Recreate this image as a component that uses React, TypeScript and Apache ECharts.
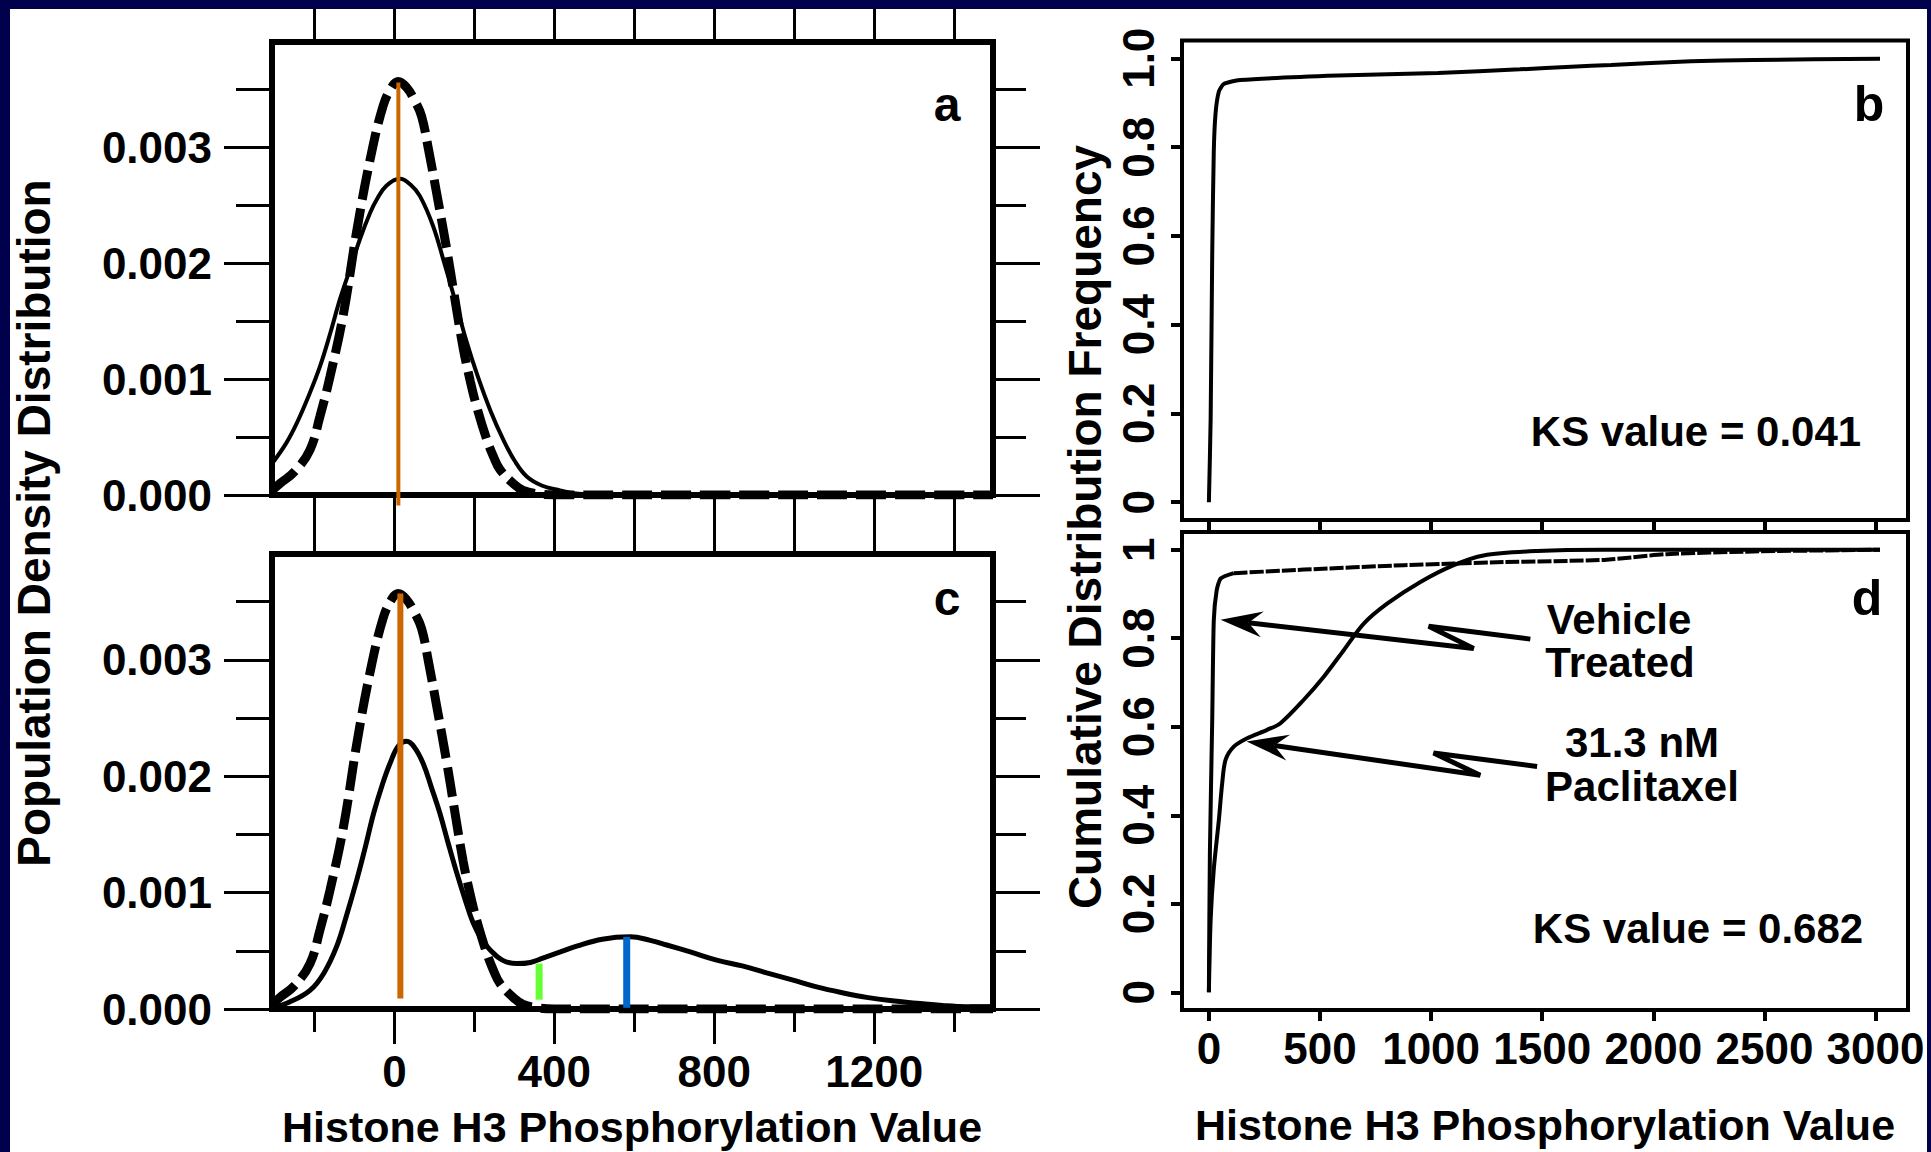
import React, { useEffect, useRef } from "react";
import * as echarts from "echarts";

const FONT = '"Liberation Sans", Arial, Helvetica, sans-serif';

// ---------- density panels (a, c) ----------
const densityXMin = -306;
const densityXMax = 1497;
const densityYMin = 0;
const densityYMax = 0.00391;
const densityXTicks = [-200, 0, 200, 400, 600, 800, 1000, 1200, 1400];
const densityXMajor = [0, 400, 800, 1200];
const densityXMinor = [-200, 200, 600, 1000, 1400];
const densityYMajor = [0, 0.001, 0.002, 0.003];
const densityYMinor = [0.0005, 0.0015, 0.0025, 0.0035];

// vehicle-treated density (dashed, panels a and c)
const vehicleDensity: [number, number][] = [
  [-306, 0.00004], [-286, 0.0001], [-250, 0.0002], [-211, 0.00039], [-186, 0.00068],
  [-161, 0.00102], [-127, 0.00157], [-94, 0.00228], [-61, 0.00289], [-28, 0.00336],
  [-5, 0.00353], [10, 0.00357], [30, 0.00352], [50, 0.00341], [68, 0.00327],
  [85, 0.00299], [106, 0.0026], [131, 0.00212], [150, 0.00172], [172, 0.00127],
  [190, 0.00098], [206, 0.00076], [230, 0.00049], [248, 0.00033], [264, 0.00022],
  [297, 0.0001], [322, 0.00004], [360, 0.00001], [400, 0], [800, 0], [1200, 0], [1497, 0],
];

// panel a comparison density (solid)
const panelADensity: [number, number][] = [
  [-306, 0.00027], [-270, 0.00045], [-244, 0.00062], [-215, 0.00085], [-186, 0.00111],
  [-160, 0.0014], [-136, 0.00169], [-110, 0.00196], [-86, 0.00221], [-60, 0.00244],
  [-44, 0.00255], [-20, 0.00267], [14, 0.00273], [40, 0.00268], [64, 0.00258],
  [97, 0.00232], [125, 0.002], [156, 0.00163], [180, 0.00133], [206, 0.00105],
  [240, 0.00073], [272, 0.00048], [300, 0.0003], [331, 0.00016], [370, 0.00008],
  [414, 0.00004], [460, 0.00001], [520, 0], [800, 0], [1200, 0], [1497, 0],
];

// 31.3 nM paclitaxel density (solid, panel c)
const paclitaxelDensity: [number, number][] = [
  [-306, 0.00001], [-262, 0.00006], [-211, 0.00016], [-176, 0.00031], [-144, 0.00054],
  [-120, 0.0008], [-94, 0.00111], [-72, 0.0014], [-52, 0.00168], [-30, 0.00193],
  [-11, 0.00211], [10, 0.00226], [31, 0.0023], [50, 0.00225], [72, 0.00211],
  [93, 0.0019], [114, 0.00168], [135, 0.00142], [156, 0.00117], [177, 0.00094],
  [197, 0.00074], [218, 0.0006], [239, 0.00051], [270, 0.00042], [306, 0.00039],
  [340, 0.0004], [373, 0.00044], [415, 0.00049], [456, 0.00054], [520, 0.0006],
  [590, 0.00062], [640, 0.00059], [681, 0.00055], [740, 0.00049], [806, 0.00042],
  [870, 0.00037], [931, 0.00031], [995, 0.00025], [1056, 0.00019], [1120, 0.00014],
  [1181, 0.0001], [1245, 0.00007], [1306, 0.00005], [1370, 0.00003], [1431, 0.00002],
  [1497, 0.00002],
];

// vertical marker lines
const panelAMarkerX = [10];
const panelAMarkerTop = [0.00356];
const panelAMarkerBottom = [-0.00009];
const panelCMarkerX = [15, 362, 581];
const panelCMarkerTop = [0.00357, 0.00039, 0.00062];
const panelCMarkerBottom = [0.00009, 0.00008, 0.00001];

// ---------- cumulative panels (b, d) ----------
const cdfXMin = -121;
const cdfXMax = 3146;
const cdfYMin = -0.04;
const cdfYMax = 1.04;
const cdfXTicks = [0, 500, 1000, 1500, 2000, 2500, 3000];
const cdfYTicks = [0, 0.2, 0.4, 0.6, 0.8, 1];

const vehicleCdfB: [number, number][] = [
  [0, 0], [8, 0.19], [15, 0.56], [22, 0.79], [30, 0.876], [45, 0.925], [67, 0.942],
  [140, 0.951], [580, 0.961], [1030, 0.967], [1400, 0.975], [1630, 0.981],
  [1810, 0.985], [2170, 0.993], [2450, 0.996], [3020, 0.999],
];

const vehicleCdfD: [number, number][] = [
  [0, 0], [4.5, 0.315], [15, 0.615], [22, 0.84], [35, 0.908], [53, 0.935], [112, 0.947],
  [427, 0.955], [877, 0.965], [1326, 0.972], [1780, 0.977], [2060, 0.99], [2450, 0.996],
  [3020, 1.0],
];

const paclitaxelCdfD: [number, number][] = [
  [0, 0], [8, 0.165], [22, 0.278], [45, 0.39], [60, 0.473], [75, 0.525], [112, 0.555],
  [172, 0.574], [262, 0.593], [322, 0.608], [427, 0.661], [517, 0.713], [607, 0.773],
  [697, 0.833], [802, 0.878], [952, 0.927], [1102, 0.965], [1236, 0.987], [1477, 0.997],
  [1776, 1.0], [3020, 1.0],
];

// annotation arrows in panel d: tip, zig bottom, zig top, tail end
const arrowPaths: [number, number][][] = [
  [[52.6, 0.842], [1191.6, 0.777], [989, 0.827], [1446.5, 0.798]],
  [[169.5, 0.5666], [1221, 0.4904], [1011, 0.5406], [1477, 0.5102]],
];

const NAVY = "#00004d";
const ORANGE = "#cc6600";
const GREEN = "#66ff33";
const BLUE = "#0066cc";

const labelBase = {
  fontFamily: FONT,
  fontWeight: "bold" as const,
  fontSize: 44,
  color: "#000",
};

const noLine = { show: false, onZero: false };

function densityXAxis(grid: number, position: string, ticks: number[], len: number, labels: number[] | null) {
  return {
    type: "value",
    gridIndex: grid,
    position,
    min: densityXMin,
    max: densityXMax,
    axisLine: noLine,
    splitLine: { show: false },
    axisTick: { show: true, customValues: ticks, length: len, lineStyle: { color: "#000", width: 3 } },
    axisLabel: labels
      ? { show: true, customValues: labels, margin: 40, ...labelBase, formatter: (v: number) => String(v) }
      : { show: false },
  };
}

function densityYAxis(grid: number, position: string, ticks: number[], len: number, labels: boolean) {
  return {
    type: "value",
    gridIndex: grid,
    position,
    min: densityYMin,
    max: densityYMax,
    axisLine: noLine,
    splitLine: { show: false },
    axisTick: { show: true, customValues: ticks, length: len, lineStyle: { color: "#000", width: 3 } },
    axisLabel: labels
      ? { show: true, customValues: densityYMajor, margin: 60, ...labelBase, formatter: (v: number) => v.toFixed(3) }
      : { show: false },
  };
}

function cdfXAxis(grid: number, position: string, labels: boolean) {
  return {
    type: "value", gridIndex: grid, position, min: cdfXMin, max: cdfXMax,
    axisLine: noLine, splitLine: { show: false },
    axisTick: { show: true, customValues: cdfXTicks, length: 11, lineStyle: { color: "#000", width: 4 } },
    axisLabel: labels
      ? { show: true, customValues: cdfXTicks, margin: 16, ...labelBase, formatter: (v: number) => String(v) }
      : { show: false },
  };
}

function cdfYAxis(grid: number, fmt: (v: number) => string) {
  return {
    type: "value", gridIndex: grid, position: "left", min: cdfYMin, max: cdfYMax,
    axisLine: noLine, splitLine: { show: false },
    axisTick: { show: true, customValues: cdfYTicks, length: 11, lineStyle: { color: "#000", width: 4 } },
    axisLabel: { show: true, customValues: cdfYTicks, margin: 22, rotate: 90, ...labelBase, formatter: fmt },
  };
}

function markerSeries(x: number[], top: number[], bottom: number[], colors: string[], widths: number[], xi: number, yi: number) {
  return x.map((xv, i) => ({
    type: "line",
    xAxisIndex: xi,
    yAxisIndex: yi,
    data: [[xv, bottom[i]], [xv, top[i]]],
    symbol: "none",
    clip: false,
    z: 5,
    lineStyle: { color: colors[i], width: widths[i], cap: "butt" },
  }));
}

export default function App() {
  const ref = useRef<HTMLDivElement>(null);

  useEffect(() => {
    if (!ref.current) return;
    const chart = echarts.init(ref.current, undefined, { renderer: "svg" });

    const txt = (text: string, x: number, y: number, size: number, rotation = 0) => ({
      type: "text",
      x,
      y,
      rotation,
      z: 50,
      style: {
        text,
        fontFamily: FONT,
        fontWeight: "bold",
        fontSize: size,
        fill: "#000",
        align: "center",
        verticalAlign: "middle",
      },
    });

    const densityLine = (xi: number, yi: number, data: [number, number][], width: number, dashed: boolean) => ({
      type: "line", xAxisIndex: xi, yAxisIndex: yi, data, symbol: "none",
      smooth: 0.4,
      lineStyle: dashed
        ? { color: "#000", width, type: [30, 9], cap: "butt" }
        : { color: "#000", width },
    });

    const cdfLine = (data: [number, number][], xi: number, yi: number, smooth: number, dash: number[] | null) => ({
      type: "line", xAxisIndex: xi, yAxisIndex: yi, data, symbol: "none",
      smooth,
      lineStyle: dash
        ? { color: "#000", width: 4, type: dash, cap: "butt" }
        : { color: "#000", width: 4 },
    });

    const option: any = {
      animation: false,
      backgroundColor: "#fff",
      grid: [
        { left: 272, top: 42, width: 721, height: 453, show: true, borderColor: "#000", borderWidth: 6, backgroundColor: "transparent" },
        { left: 272, top: 554, width: 721, height: 455, show: true, borderColor: "#000", borderWidth: 6, backgroundColor: "transparent" },
        { left: 1182, top: 40.5, width: 726, height: 479.5, show: true, borderColor: "#000", borderWidth: 4, backgroundColor: "transparent" },
        { left: 1182, top: 532, width: 726, height: 478, show: true, borderColor: "#000", borderWidth: 4, backgroundColor: "transparent" },
      ],
      xAxis: [
        densityXAxis(0, "bottom", densityXTicks, 30, null), // 0
        densityXAxis(0, "top", densityXTicks, 33, null), // 1
        densityXAxis(1, "bottom", densityXMajor, 35, densityXMajor), // 2
        densityXAxis(1, "bottom", densityXMinor, 23, null), // 3
        densityXAxis(1, "top", densityXTicks, 30, null), // 4
        cdfXAxis(2, "bottom", false), // 5
        cdfXAxis(3, "bottom", true), // 6
        cdfXAxis(3, "top", false), // 7
      ],
      yAxis: [
        densityYAxis(0, "left", densityYMajor, 48, true), // 0
        densityYAxis(0, "left", densityYMinor, 36, false), // 1
        densityYAxis(0, "right", densityYMajor, 47, false), // 2
        densityYAxis(0, "right", densityYMinor, 33, false), // 3
        densityYAxis(1, "left", densityYMajor, 48, true), // 4
        densityYAxis(1, "left", densityYMinor, 36, false), // 5
        densityYAxis(1, "right", densityYMajor, 47, false), // 6
        densityYAxis(1, "right", densityYMinor, 33, false), // 7
        cdfYAxis(2, (v: number) => (v === 0 ? "0" : v.toFixed(1))), // 8
        cdfYAxis(3, (v: number) => (v === 0 ? "0" : v === 1 ? "1" : v.toFixed(1))), // 9
      ],
      series: [
        // panel a
        densityLine(0, 0, vehicleDensity, 9, true),
        densityLine(0, 0, panelADensity, 4, false),
        ...markerSeries(panelAMarkerX, panelAMarkerTop, panelAMarkerBottom, [ORANGE], [4], 0, 0),
        // panel c
        densityLine(2, 4, vehicleDensity, 9, true),
        densityLine(2, 4, paclitaxelDensity, 5, false),
        ...markerSeries(panelCMarkerX, panelCMarkerTop, panelCMarkerBottom, [ORANGE, GREEN, BLUE], [6, 7, 7], 2, 4),
        // panel b
        cdfLine(vehicleCdfB, 5, 8, 0.2, null),
        // panel d
        cdfLine(vehicleCdfD.filter((p) => p[0] <= 112), 6, 9, 0.2, null),
        cdfLine(vehicleCdfD.filter((p) => p[0] >= 112), 6, 9, 0.2, [14, 2]),
        cdfLine(paclitaxelCdfD, 6, 9, 0.3, null),
        {
          type: "custom", xAxisIndex: 6, yAxisIndex: 9, clip: false, z: 20,
          data: arrowPaths.map((p) => p[0]),
          renderItem: (params: any, api: any) => {
            const pts = arrowPaths[params.dataIndex].map((p) => api.coord(p));
            const tip = pts[0];
            const dx = pts[1][0] - tip[0];
            const dy = pts[1][1] - tip[1];
            const len = Math.hypot(dx, dy);
            const ux = dx / len, uy = dy / len;
            const nx = -uy, ny = ux;
            const L = 42, W = 13, N = 28;
            const c1 = [tip[0] + ux * L + nx * W, tip[1] + uy * L + ny * W];
            const c2 = [tip[0] + ux * L - nx * W, tip[1] + uy * L - ny * W];
            const notch = [tip[0] + ux * N, tip[1] + uy * N];
            return {
              type: "group",
              children: [
                {
                  type: "polyline",
                  shape: { points: [notch, ...pts.slice(1)] },
                  style: { stroke: "#000", lineWidth: 5, fill: "none", lineJoin: "miter" },
                },
                {
                  type: "polygon",
                  shape: { points: [tip, c1, notch, c2] },
                  style: { fill: "#000", stroke: "none" },
                },
              ],
            };
          },
        },
      ],
      graphic: [
        txt("Population Density Distribution", 33.5, 523, 46, Math.PI / 2),
        txt("Cumulative Distribution Frequency", 1085, 527, 46, Math.PI / 2),
        txt("Histone H3 Phosphorylation Value", 632, 1127, 43),
        txt("Histone H3 Phosphorylation Value", 1545, 1125, 43),
        txt("a", 947, 104, 48),
        txt("c", 947, 598, 48),
        txt("b", 1869, 104, 50),
        txt("d", 1867, 598, 50),
        txt("KS value = 0.041", 1696, 431, 42),
        txt("KS value = 0.682", 1698, 928, 42),
        txt("Vehicle", 1619, 619, 42),
        txt("Treated", 1620, 662, 42),
        txt("31.3 nM", 1642, 742, 42),
        txt("Paclitaxel", 1642, 786, 42),
        { type: "rect", z: 100, shape: { x: 0, y: 0, width: 1931, height: 9 }, style: { fill: NAVY } },
        { type: "rect", z: 100, shape: { x: 0, y: 0, width: 10, height: 1152 }, style: { fill: NAVY } },
        { type: "rect", z: 100, shape: { x: 1927, y: 0, width: 4, height: 1152 }, style: { fill: NAVY } },
      ],
    };

    chart.setOption(option);
    return () => chart.dispose();
  }, []);

  return (
    <div
      ref={ref}
      style={{ position: "absolute", left: 0, top: 0, width: 1931, height: 1152 }}
    />
  );
}
